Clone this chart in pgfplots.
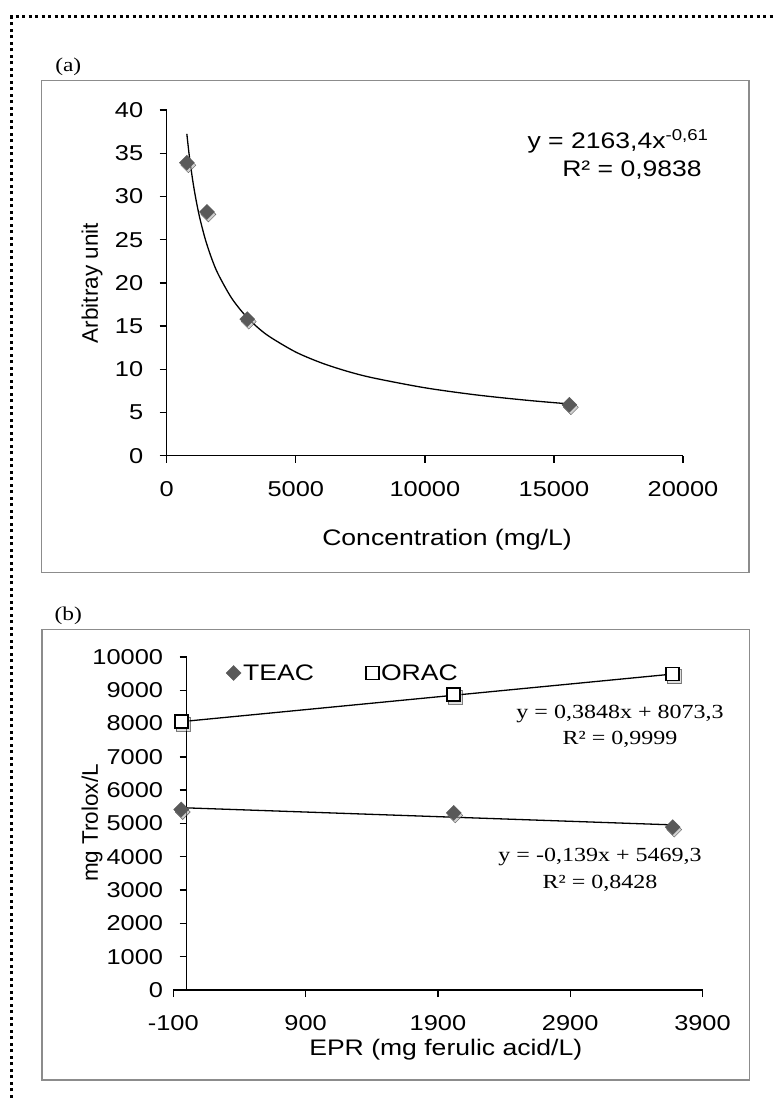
\documentclass[border=0pt]{standalone}
\usepackage{fontspec}
\setmainfont{Liberation Sans}
\newfontfamily\arialS{Liberation Sans}[FakeStretch=1.18]
\newfontfamily\timesS{Liberation Serif}[FakeStretch=1.2]
\usepackage{pgfplots}
\usepackage{pgfplotstable}
\pgfplotsset{compat=1.18}

\definecolor{mk}{HTML}{595959}
\definecolor{framec}{HTML}{8C8C8C}

\newcommand\tickf{\arialS\fontsize{21.5}{24}\selectfont}
\newcommand\labf{\arialS\fontsize{22.5}{26}\selectfont}
\newcommand\rotf{\fontsize{22.5}{26}\selectfont}
\newcommand\eqf{\timesS\fontsize{20}{24}\selectfont}

\pgfplotstableread{
x y
780 33.9
1560 28.2
3120 15.8
15600 5.9
}\dataA

\pgfplotstableread{
x y
780 37.24
850 35.33
900 34.13
1000 32.00
1100 30.19
1200 28.63
1300 27.27
1500 24.99
1750 22.75
2000 20.97
2500 18.30
3000 16.37
3500 14.90
4000 13.74
5000 11.99
6000 10.73
7000 9.76
8000 9.00
10000 7.86
12000 7.03
14000 6.40
15600 5.99
}\fitA

\pgfplotstableread{
x y
-40 5420
2020 5320
3675 4890
}\teac

\pgfplotstableread{
x y
-40 8057
2020 8870
3675 9487
}\orac

\pgfplotstableread{
x y
-40 5474.9
3675 4958.5
}\teacfit

\pgfplotstableread{
x y
-40 8057.9
3675 9487.4
}\oracfit

\pgfplotsset{excel/.style={scale only axis, anchor=south west,
  tick align=outside, major tick length=7pt,
  axis line style={line width=1.5pt, black},
  tick style={line width=1.4pt, black},
  ticklabel style={font=\tickf},
  xticklabel style={yshift=-15pt},
  yticklabel style={xshift=-13pt},
  /pgf/number format/assume math mode=true,
  /pgf/number format/1000 sep={},
  scaled ticks=false, clip=false,
  hide obscured x ticks=false, hide obscured y ticks=false,
  axis x line*=bottom}}

\begin{document}
\begin{tikzpicture}
\begin{scope}[x=1pt,y=1pt]
\path[use as bounding box] (0,0) rectangle (776,1098);
\draw[line width=3pt, dash pattern=on 3pt off 3.5pt] (11.5,0) -- (11.5,1081.3) -- (776,1081.3);
\draw[framec, line width=1.5pt] (41.7,525.3) rectangle (749,1017.7);
\draw[framec, line width=1.5pt] (42,18) rectangle (749.3,468.7);
\node[font=\timesS\fontsize{19.5}{22}\selectfont] at (68.3,1031.3) {(a)};
\node[font=\timesS\fontsize{19.5}{22}\selectfont] at (68.3,482) {(b)};
\end{scope}

\begin{axis}[excel, at={(166.7pt,642.3pt)}, width=516.3pt, height=345.7pt,
  xmin=0, xmax=20000, ymin=0, ymax=40, axis y line*=left,
  xtick={0,5000,10000,15000,20000}, ytick={0,5,...,40}]
\addplot[only marks, forget plot, mark=square*, mark size=5.3pt,
  mark options={xshift=1.5pt, yshift=-2.5pt, rotate=45, fill=black!30, draw=none, opacity=0.6}] table {\dataA};
\addplot[only marks, mark=square*, mark size=5.3pt,
  mark options={rotate=45, fill=mk, draw=mk}] table {\dataA};
\addplot[black, line width=1.3pt, smooth, no marks] table {\fitA};
\end{axis}

\begin{axis}[excel, at={(173.3pt,108pt)}, width=529.2pt, height=333pt,
  xmin=-100, xmax=3900, ymin=0, ymax=10000, axis y line*=center,
  xtick={-100,900,1900,2900,3900}, ytick={0,1000,...,10000},
  legend style={at={(0.0996,0.952)}, anchor=west, draw=none, fill=none,
    legend columns=2, font=\labf, inner sep=0pt,
    /tikz/every even column/.append style={column sep=50pt}},
  legend image code/.code={\draw[mark repeat=2,mark phase=2,#1] plot coordinates {(0pt,0pt)(7pt,0pt)(14pt,0pt)};}]
\addplot[only marks, forget plot, mark=square*, mark size=5.3pt,
  mark options={xshift=1.5pt, yshift=-2.5pt, rotate=45, fill=black!30, draw=none, opacity=0.6}] table {\teac};
\addplot[only marks, forget plot, mark=square*, mark size=7pt,
  mark options={xshift=1.5pt, yshift=-2.5pt, fill=black!25, draw=none, opacity=0.5}] table {\orac};
\addplot[black, line width=1.3pt, no marks, forget plot] table {\teacfit};
\addplot[black, line width=1.3pt, no marks, forget plot] table {\oracfit};
\addplot[only marks, mark=square*, mark size=5.3pt,
  mark options={rotate=45, fill=mk, draw=mk}] table {\teac};
\addplot[only marks, mark=square*, mark size=6.5pt,
  mark options={fill=white, draw=black, line width=1.8pt}] table {\orac};
\legend{TEAC, ORAC}
\end{axis}

\begin{scope}[x=1pt,y=1pt]
\node[font=\labf, anchor=base] at (618,949.7) {y = 2163,4x\textsuperscript{-0,61}};
\node[font=\labf, anchor=base] at (632,921.3) {R² = 0,9838};
\node[font=\labf] at (447,558) {Concentration (mg/L)};
\node[font=\labf] at (445.8,48.7) {EPR (mg ferulic acid/L)};
\node[font=\rotf, rotate=90] at (92,815) {Arbitray unit};
\node[font=\rotf, rotate=90] at (92,275) {mg Trolox/L};
\node[font=\eqf, anchor=base] at (620,379.7) {y = 0,3848x + 8073,3};
\node[font=\eqf, anchor=base] at (620,353) {R² = 0,9999};
\node[font=\eqf, anchor=base] at (600,236.3) {y = -0,139x + 5469,3};
\node[font=\eqf, anchor=base] at (600,209.7) {R² = 0,8428};
\end{scope}
\end{tikzpicture}
\end{document}
